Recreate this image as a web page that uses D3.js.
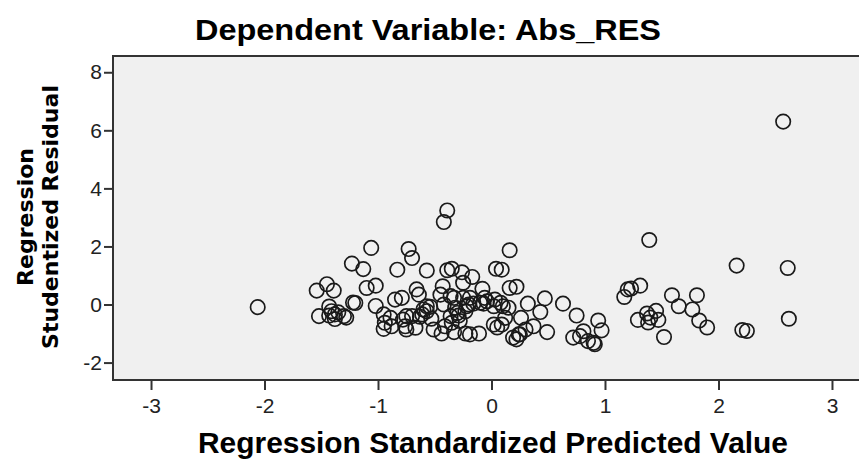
<!DOCTYPE html>
<html>
<head>
<meta charset="utf-8">
<script src="https://cdn.jsdelivr.net/npm/d3@7"></script>
<style>
  body { margin: 0; background: #fff; }
  svg { display: block; }
</style>
</head>
<body>
<div id="chart"></div>
<script>
const width = 859;
const height = 461;

// data
const predicted = [
  -2.06, -1.54, -1.45, -1.39, -1.52, -1.43, -1.43, -1.38, -1.38, -1.30,
  -1.41, -1.22, -1.20, -1.23, -1.13, -1.06, -1.10, -1.02, -1.02, -0.83,
  -0.73, -0.70, -0.57, -0.85, -0.79, -0.95, -0.94, -0.95, -0.88, -0.75,
  -0.67, -0.78, -0.70, -0.66, -0.64, -0.61, -0.57, -0.39, -0.42, -0.39,
  -0.35, -0.26, -0.17, 0.04, -0.25, -0.08, -0.43, -0.45, -0.36, -0.19,
  -0.06, 0.03, -0.54, -0.60, -0.42, -0.32, -0.22, -0.16, -0.07, 0.02,
  -0.89, -0.75, -0.63, -0.53, -0.36, -0.29, -0.23, -0.76, -0.51, -0.41,
  -0.35, -0.28, -0.44, -0.33, -0.23, -0.19, -0.11, 0.02, 0.05, 0.16,
  0.09, 0.16, 0.22, 0.10, 0.15, 0.32, 0.47, 0.63, 0.75, 0.94,
  0.97, 0.43, 0.26, 0.12, 0.09, 0.37, 0.49, 0.30, 0.24, 0.19,
  0.81, 0.78, 0.72, 0.85, 0.91, 1.17, 1.20, 1.23, 1.31, 1.39,
  1.59, 1.81, 1.65, 1.77, 1.83, 1.90, 1.52, 1.29, 1.37, 1.45,
  1.38, 1.47, 1.40, 2.16, 2.61, 2.62, 2.21, 2.25, 2.57, -0.33,
  -0.25, -0.10, -0.04, 0.08, 0.22, 0.25, -0.20, -0.30, -0.57, -1.28,
  -1.35, 0.90
];
const residual = [
  -0.09, 0.48, 0.70, 0.48, -0.40, -0.07, -0.38, -0.34, -0.50, -0.40,
  -0.23, 0.07, 0.05, 1.41, 1.22, 1.95, 0.57, 0.65, -0.05, 1.20,
  1.91, 1.60, 1.17, 0.17, 0.23, -0.34, -0.63, -0.84, -0.75, -0.86,
  -0.80, -0.52, -0.40, 0.52, 0.34, -0.34, -0.06, 3.24, 2.84, 1.18,
  1.23, 1.11, 0.95, 1.23, 0.75, 0.54, 0.63, 0.34, 0.29, 0.23,
  0.23, 0.17, -0.08, -0.17, 0.00, -0.11, -0.06, 0.03, 0.03, -0.06,
  -0.46, -0.40, -0.42, -0.49, -0.40, -0.38, -0.23, -0.75, -0.86, -0.75,
  -0.63, -0.57, -1.00, -0.95, -1.00, -1.03, -1.00, -0.69, -0.79, 1.87,
  1.20, 0.57, 0.61, -0.06, -0.11, 0.03, 0.21, 0.03, -0.38, -0.55,
  -0.89, -0.26, -0.46, -0.46, -0.69, -0.75, -0.95, -0.86, -1.03, -1.14,
  -0.92, -1.09, -1.14, -1.26, -1.37, 0.26, 0.52, 0.55, 0.65, 2.22,
  0.32, 0.32, -0.06, -0.17, -0.55, -0.79, -1.12, -0.53, -0.31, -0.22,
  -0.62, -0.53, -0.45, 1.34, 1.26, -0.49, -0.88, -0.91, 6.30, 0.23,
  0.23, 0.06, 0.11, 0.06, -1.20, -1.03, 0.00, -0.29, -0.23, -0.45,
  -0.27, -1.32
];
const xTicks = [-3, -2, -1, 0, 1, 2, 3];
const yTicks = [-2, 0, 2, 4, 6, 8];

const title = 'Dependent Variable: Abs_RES';
const xTitle = 'Regression Standardized Predicted Value';
const yTitle = ['Regression', 'Studentized Residual'];

const plot = { left: 113, top: 56, right: 870, bottom: 380 };

const x = d3.scaleLinear().domain([-3.335, 3.335]).range([plot.left, plot.right]);
const y = d3.scaleLinear().domain([-2.6, 8.56]).range([plot.bottom, plot.top]);

const svg = d3.select('#chart')
  .append('svg')
  .attr('width', width)
  .attr('height', height)
  .attr('viewBox', `0,0,${width},${height}`);

// plot background
svg.append('rect')
  .attr('x', plot.left)
  .attr('y', plot.top)
  .attr('width', plot.right - plot.left)
  .attr('height', plot.bottom - plot.top)
  .style('fill', '#f0f0f0')
  .style('stroke', '#333')
  .style('stroke-width', 2);

// axes
const yAxis = svg.append('g')
  .attr('transform', `translate(${plot.left},0)`)
  .call(d3.axisLeft(y).tickValues(yTicks).tickSize(9).tickPadding(2).tickFormat(d3.format('d')));

const xAxis = svg.append('g')
  .attr('transform', `translate(0,${plot.bottom})`)
  .call(d3.axisBottom(x).tickValues(xTicks).tickSize(10).tickPadding(8).tickFormat(d3.format('d')));

[xAxis, yAxis].forEach(g => {
  g.select('.domain').remove();
  g.selectAll('line').style('stroke', '#333').style('stroke-width', 2);
  g.selectAll('text')
    .style('font-family', '"Liberation Sans Narrow", "Liberation Sans", Arial, sans-serif')
    .style('font-size', '21px')
    .style('fill', '#222');
});
xAxis.selectAll('text').text(d => d < 0 ? '-' + Math.abs(d) : d);
yAxis.selectAll('text').text(d => d < 0 ? '-' + Math.abs(d) : d);

// points
svg.append('g')
  .selectAll('circle')
  .data(predicted.map((p, i) => [p, residual[i]]))
  .join('circle')
  .attr('cx', d => x(d[0]))
  .attr('cy', d => y(d[1]))
  .attr('r', 7.2)
  .style('fill', 'none')
  .style('stroke', '#1a1a1a')
  .style('stroke-width', 1.7);

// titles
svg.append('text')
  .attr('x', 428)
  .attr('y', 40)
  .attr('text-anchor', 'middle')
  .attr('textLength', 466)
  .attr('lengthAdjust', 'spacingAndGlyphs')
  .style('font-family', '"Liberation Sans", Arial, sans-serif')
  .style('font-weight', 'bold')
  .style('font-size', '29px')
  .text(title);

svg.append('text')
  .attr('x', 493)
  .attr('y', 453)
  .attr('text-anchor', 'middle')
  .attr('textLength', 590)
  .attr('lengthAdjust', 'spacingAndGlyphs')
  .style('font-family', '"Liberation Sans", Arial, sans-serif')
  .style('font-weight', 'bold')
  .style('font-size', '29px')
  .text(xTitle);

const yt = svg.append('g')
  .attr('transform', 'translate(0,217) rotate(-90)');

yt.selectAll('text')
  .data(yTitle)
  .join('text')
  .attr('x', 0)
  .attr('y', (d, i) => 33 + i * 25)
  .attr('text-anchor', 'middle')
  .style('font-family', '"DejaVu Sans", Verdana, sans-serif')
  .style('font-weight', 'bold')
  .style('font-size', '22px')
  .text(d => d);
</script>
</body>
</html>
